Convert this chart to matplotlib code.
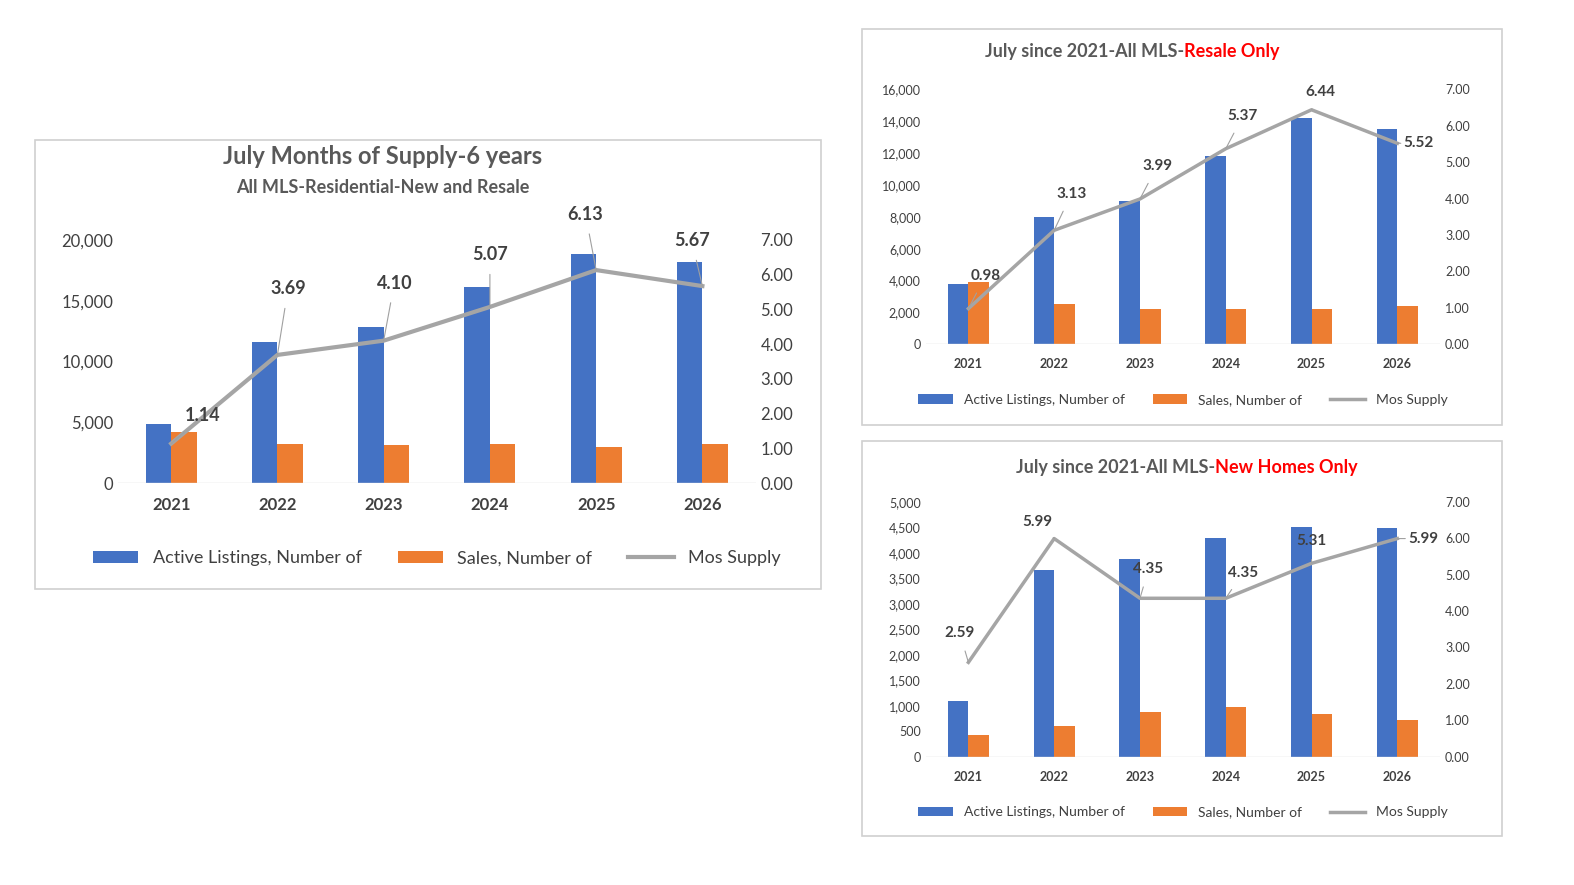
import matplotlib.pyplot as plt
from matplotlib.patches import Rectangle

plt.rcParams['font.family'] = ['Lato', 'DejaVu Sans']

years = ['2021', '2022', '2023', '2024', '2025', '2026']

all_active = [4900, 11600, 12800, 16100, 18800, 18200]
all_sales = [4200, 3200, 3100, 3200, 3000, 3200]
all_mos = [1.14, 3.69, 4.10, 5.07, 6.13, 5.67]

resale_active = [3800, 8000, 9000, 11800, 14200, 13500]
resale_sales = [3900, 2500, 2200, 2200, 2200, 2400]
resale_mos = [0.98, 3.13, 3.99, 5.37, 6.44, 5.52]

new_active = [1090, 3670, 3880, 4280, 4500, 4480]
new_sales = [420, 610, 880, 980, 840, 720]
new_mos = [2.59, 5.99, 4.35, 4.35, 5.31, 5.99]

BLUE = '#4472C4'
ORANGE = '#ED7D31'
GREY = '#A5A5A5'
TXT = '#404040'

fig = plt.figure(figsize=(15.74, 8.85), dpi=100)


def box(x0, y0, x1, y1):
    # panel frame in pixel coords
    fig.patches.append(Rectangle((x0 / 1574, 1 - y1 / 885), (x1 - x0) / 1574, (y1 - y0) / 885,
                                 transform=fig.transFigure, fill=False, ec='#D0D0D0', lw=1.2))


def panel(rect, active, sales, mos, ymax, ystep, fmt, offsets, fs, lblfs, legend_y):
    ax = fig.add_axes(rect)
    x = range(len(years))
    w = 0.24
    ax.bar([i - w / 2 for i in x], active, w, color=BLUE, label='Active Listings, Number of')
    ax.bar([i + w / 2 for i in x], sales, w, color=ORANGE, label='Sales, Number of')
    ax.set_ylim(0, ymax)
    ax.set_yticks(range(0, ymax + 1, ystep))
    ax.set_yticklabels([fmt(v) for v in range(0, ymax + 1, ystep)])
    ax.set_xticks(list(x))
    ax.set_xticklabels(years, fontweight='bold')
    ax.set_xlim(-0.5, len(years) - 0.5)
    ax2 = ax.twinx()
    ax2.plot(list(x), mos, color=GREY, lw=3 if fs > 10 else 2.5, label='Mos Supply')
    ax2.set_ylim(0, 7)
    ax2.set_yticks(range(8))
    ax2.set_yticklabels([f'{v:.2f}' for v in range(8)])
    for a in (ax, ax2):
        for s in a.spines.values():
            s.set_visible(False)
        a.tick_params(length=0, labelsize=fs, colors=TXT)
    ax.tick_params(axis='x', pad=10)
    ax.axhline(0, color='#D9D9D9', lw=1)
    for i, v in enumerate(mos):
        dx, dy = offsets[i]
        ax2.annotate(f'{v:.2f}', (i, v), xytext=(i + dx, v + dy), ha='center', va='center',
                     fontsize=lblfs, fontweight='bold', color=TXT,
                     arrowprops=dict(arrowstyle='-', color='#A0A0A0', lw=0.8,
                                     shrinkA=6, shrinkB=0))
    h1, l1 = ax.get_legend_handles_labels()
    h2, l2 = ax2.get_legend_handles_labels()
    fig.legend(h1 + h2, l1 + l2, loc='center', ncol=3, frameon=False, fontsize=fs + 1,
               bbox_to_anchor=(rect[0] + rect[2] / 2, legend_y), handlelength=2.5,
               labelcolor=TXT)
    return ax


box(35, 140, 821, 589)
box(862, 29, 1502, 425)
box(862, 441, 1502, 836)

ax = panel([0.075, 0.454, 0.405, 0.275], all_active, all_sales, all_mos, 20000, 5000,
           lambda v: f'{v:,}', [(0.3, 0.8), (0.1, 1.9), (0.1, 1.65), (0.0, 1.5), (-0.1, 1.6), (-0.1, 1.3)],
           12, 13, 0.369)
fig.text(0.243, 0.815, 'July Months of Supply-6 years', ha='center', fontsize=17,
         fontweight='bold', color='#595959')
fig.text(0.243, 0.782, 'All MLS-Residential-New and Resale', ha='center', fontsize=13,
         fontweight='bold', color='#595959')

panel([0.588, 0.611, 0.327, 0.288], resale_active, resale_sales, resale_mos, 16000, 2000,
      lambda v: f'{v:,}', [(0.2, 0.9), (0.2, 1.0), (0.2, 0.9), (0.2, 0.9), (0.1, 0.5), (0.25, 0.0)],
      9, 11, 0.548)
fig.text(0.752, 0.936, 'July since 2021-All MLS-', ha='right', fontsize=13, fontweight='bold', color='#595959')
fig.text(0.752, 0.936, 'Resale Only', ha='left', fontsize=13, fontweight='bold', color='red')

panel([0.588, 0.145, 0.327, 0.288], new_active, new_sales, new_mos, 5000, 500,
      lambda v: f'{v:,}', [(-0.1, 0.8), (-0.2, 0.45), (0.1, 0.8), (0.2, 0.7), (0.0, 0.6), (0.3, 0.0)],
      9, 11, 0.082)
fig.text(0.772, 0.466, 'July since 2021-All MLS-', ha='right', fontsize=13, fontweight='bold', color='#595959')
fig.text(0.772, 0.466, 'New Homes Only', ha='left', fontsize=13, fontweight='bold', color='red')

fig.savefig('out.png', dpi=100)
